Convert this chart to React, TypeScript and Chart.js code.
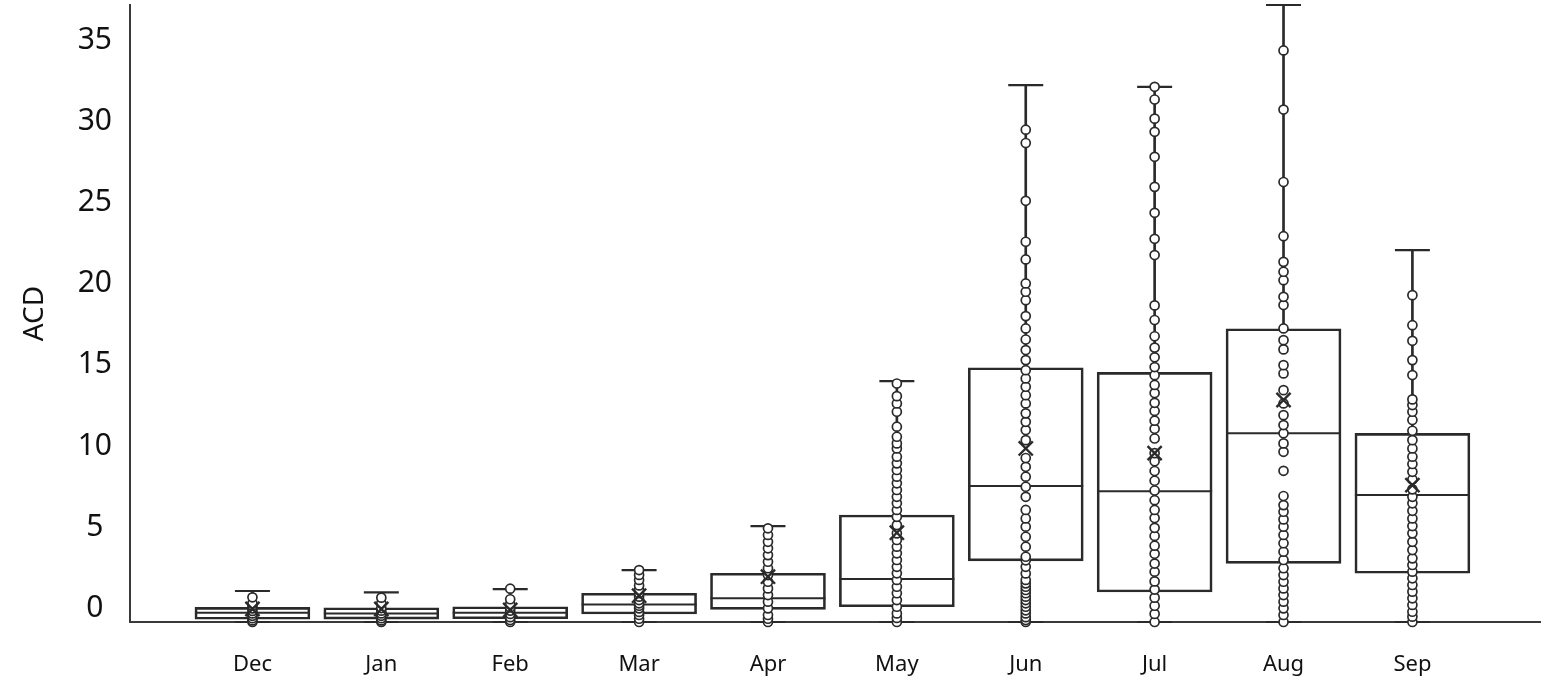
import React, { useEffect, useRef } from "react";
import { Chart, registerables } from "chart.js";

Chart.register(...registerables);

// ---- data ----
const months = ["Dec", "Jan", "Feb", "Mar", "Apr", "May", "Jun", "Jul", "Aug", "Sep"];
const yTickValues = [0, 5, 10, 15, 20, 25, 30, 35];

const whiskerLow = [0, 0, 0, 0, 0, 0, 0, 0, 0, 0];
const q1 = [0.17, 0.18, 0.2, 0.49, 0.78, 0.94, 3.76, 1.85, 3.61, 3.0];
const median = [0.57, 0.53, 0.57, 1.08, 1.46, 2.65, 8.37, 8.05, 11.62, 7.82];
const q3 = [0.9, 0.88, 0.94, 1.77, 3.0, 6.59, 15.66, 15.37, 18.06, 11.62];
const whiskerHigh = [1.91, 1.83, 2.03, 3.2, 5.91, 14.84, 33.06, 32.96, 38.0, 22.9];
const mean = [0.8, 0.8, 0.74, 1.62, 2.79, 5.5, 10.69, 10.4, 13.67, 8.43];

const decPoints = [0, 0.1, 0.23, 0.38, 0.53, 0.68, 0.84, 1.0, 1.15, 1.52];
const janPoints = [0, 0.1, 0.23, 0.38, 0.53, 0.7, 0.86, 1.15, 1.5];
const febPoints = [0, 0.12, 0.3, 0.5, 0.7, 0.9, 1.1, 1.4, 2.05];
const marPoints = [0, 0.2, 0.43, 0.62, 0.84, 1.0, 1.15, 1.35, 1.56, 1.77, 1.97, 2.25, 2.59, 2.9, 3.2];
const aprPoints = [0, 0.2, 0.43, 0.84, 1.25, 1.66, 2.07, 2.48, 2.89, 3.31, 3.71, 4.12, 4.54, 4.94, 5.36, 5.77];
const mayPoints = [
  0, 0.25, 0.53, 0.94, 1.35, 1.77, 2.17, 2.59, 3.0, 3.4, 3.82, 4.23, 4.64, 5.05, 5.46, 5.97, 6.48, 6.9,
  7.31, 7.71, 8.13, 8.54, 8.95, 9.36, 9.77, 10.18, 10.69, 11.0, 11.41, 12.03, 12.95, 13.46, 13.91, 14.69,
];
const junPoints = [
  0, 0.12, 0.3, 0.53, 0.72, 0.94, 1.15, 1.35, 1.56, 1.77, 1.97, 2.17, 2.38, 2.59, 2.99, 3.4, 3.8, 4.02,
  4.64, 5.25, 5.87, 6.38, 6.9, 7.71, 8.33, 8.95, 9.56, 10.1, 11.2, 11.82, 12.33, 12.85, 13.46, 13.97,
  14.49, 15.0, 15.51, 16.13, 16.75, 17.4, 18.08, 18.84, 19.82, 20.34, 20.85, 22.33, 23.42, 25.94, 29.5, 30.32,
];
const julPoints = [
  0, 0.5, 1.0, 1.5, 2.0, 2.5, 3.1, 3.6, 4.2, 4.7, 5.3, 5.8, 6.4, 6.9, 7.5, 8.1, 8.7, 9.3, 9.9, 10.4,
  11.3, 11.9, 12.4, 13.0, 13.5, 14.1, 14.6, 15.2, 15.7, 16.3, 16.9, 17.6, 18.6, 19.5, 22.6, 23.6, 25.2,
  26.8, 28.65, 30.19, 31.0, 32.18, 32.96,
];
const augPoints = [
  0, 0.43, 0.84, 1.25, 1.66, 2.07, 2.48, 2.89, 3.31, 3.82, 4.33, 4.85, 5.36, 5.87, 6.32, 6.79, 7.2, 7.76,
  9.31, 10.48, 11.0, 11.62, 12.13, 12.74, 13.46, 14.28, 15.31, 15.82, 16.79, 17.36, 18.08, 19.52, 20.03,
  21.05, 21.57, 22.18, 23.76, 27.1, 31.56, 35.2,
];
const sepPoints = [
  0, 0.33, 0.63, 1.05, 1.46, 1.87, 2.28, 2.69, 3.1, 3.51, 3.92, 4.43, 4.94, 5.46, 5.91, 6.38, 6.85, 7.31,
  7.71, 8.17, 8.78, 9.25, 9.73, 10.18, 10.69, 11.2, 11.78, 12.44, 12.95, 13.36, 13.71, 15.21, 16.13, 17.32,
  18.28, 20.13,
];

const pointsByMonth = [
  decPoints, janPoints, febPoints, marPoints, aprPoints, mayPoints, junPoints, julPoints, augPoints, sepPoints,
];

const INK = "#2a2a2a";
const FONT = "'Noto Sans', 'Open Sans', sans-serif";

function zeroPadding(scale: any) {
  scale.paddingTop = 0;
  scale.paddingBottom = 0;
  scale.paddingLeft = 0;
  scale.paddingRight = 0;
}

export default function App() {
  const canvasRef = useRef<HTMLCanvasElement | null>(null);

  useEffect(() => {
    const canvas = canvasRef.current;
    if (!canvas) return;

    const idx = months.map((_, i) => i);
    const chart = new Chart(canvas, {
      type: "scatter",
      data: {
        datasets: [
          {
            type: "scatter",
            data: idx.map((i) => ({ x: i, y: mean[i] })),
            pointStyle: "crossRot",
            pointRadius: 10,
            pointBorderWidth: 2.4,
            pointBorderColor: INK,
            pointBackgroundColor: INK,
            clip: false,
          } as any,
          {
            type: "scatter",
            data: pointsByMonth.flatMap((arr, i) => arr.map((v) => ({ x: i, y: v }))),
            pointStyle: "circle",
            pointRadius: 4.5,
            pointBorderWidth: 1.7,
            pointBorderColor: INK,
            pointBackgroundColor: "#ffffff",
            clip: false,
          } as any,
          {
            type: "scatter",
            data: idx.map((i) => ({ x: i, y: median[i] })),
            pointStyle: "line",
            pointRadius: 57.5,
            pointBorderWidth: 2,
            pointBorderColor: INK,
            clip: false,
          } as any,
          {
            type: "scatter",
            data: idx.map((i) => ({ x: i, y: whiskerHigh[i] })),
            pointStyle: "line",
            pointRadius: 17.5,
            pointBorderWidth: 2.2,
            pointBorderColor: INK,
            clip: false,
          } as any,
          {
            type: "scatter",
            data: idx.map((i) => ({ x: i, y: whiskerLow[i] })),
            pointStyle: "line",
            pointRadius: 17.5,
            pointBorderWidth: 2.2,
            pointBorderColor: INK,
            clip: false,
          } as any,
          {
            type: "bar",
            data: idx.map((i) => ({ x: i, y: [q3[i], whiskerHigh[i]] })),
            barThickness: 2,
            grouped: false,
            backgroundColor: INK,
            borderWidth: 0,
            clip: false,
          } as any,
          {
            type: "bar",
            data: idx.map((i) => ({ x: i, y: [whiskerLow[i], q1[i]] })),
            barThickness: 2,
            grouped: false,
            backgroundColor: INK,
            borderWidth: 0,
          } as any,
          {
            type: "bar",
            data: idx.map((i) => ({ x: i, y: [q1[i], q3[i]] })),
            barThickness: 115,
            grouped: false,
            backgroundColor: "rgba(255,255,255,0)",
            borderColor: INK,
            borderWidth: 2,
            borderSkipped: false,
          } as any,
        ],
      },
      options: {
        animation: false,
        responsive: false,
        events: [],
        layout: { autoPadding: false, padding: { top: 5, right: 4, left: 0, bottom: 0 } },
        plugins: {
          legend: { display: false },
          tooltip: { enabled: false },
        },
        scales: {
          x: {
            type: "linear",
            min: -0.95,
            max: 9.99,
            offset: false,
            grid: { display: false, drawTicks: false },
            border: { display: true, color: "#3a3a3a", width: 2 },
            afterBuildTicks: (scale: any) => {
              scale.ticks = months.map((_, i) => ({ value: i }));
            },
            afterFit: (scale: any) => {
              scale.height = 67;
              zeroPadding(scale);
            },
            ticks: {
              autoSkip: false,
              maxRotation: 0,
              padding: 30,
              color: "#111",
              font: { family: FONT, size: 22 },
              callback: (v: any) => months[Math.round(Number(v))] ?? "",
            },
          },
          y: {
            type: "linear",
            min: 0,
            max: 38,
            grid: { display: false, drawTicks: false },
            border: { display: true, color: "#3a3a3a", width: 2 },
            afterBuildTicks: (scale: any) => {
              scale.ticks = yTickValues.map((v) => ({ value: v }));
            },
            afterFit: (scale: any) => {
              scale.width = 130;
              zeroPadding(scale);
            },
            ticks: {
              crossAlign: "center",
              padding: 18,
              labelOffset: -13.5,
              color: "#111",
              font: { family: FONT, size: 30 },
            },
            title: {
              display: true,
              text: "ACD",
              color: "#111",
              padding: { top: 18, bottom: 0 },
              font: { family: FONT, size: 28 },
            },
          },
        },
      } as any,
    });

    return () => {
      chart.destroy();
    };
  }, []);

  return (
    <div style={{ position: "fixed", left: 0, top: 0, width: 1544, height: 689, background: "#fff" }}>
      <canvas ref={canvasRef} width={1544} height={689} style={{ display: "block" }} />
    </div>
  );
}
